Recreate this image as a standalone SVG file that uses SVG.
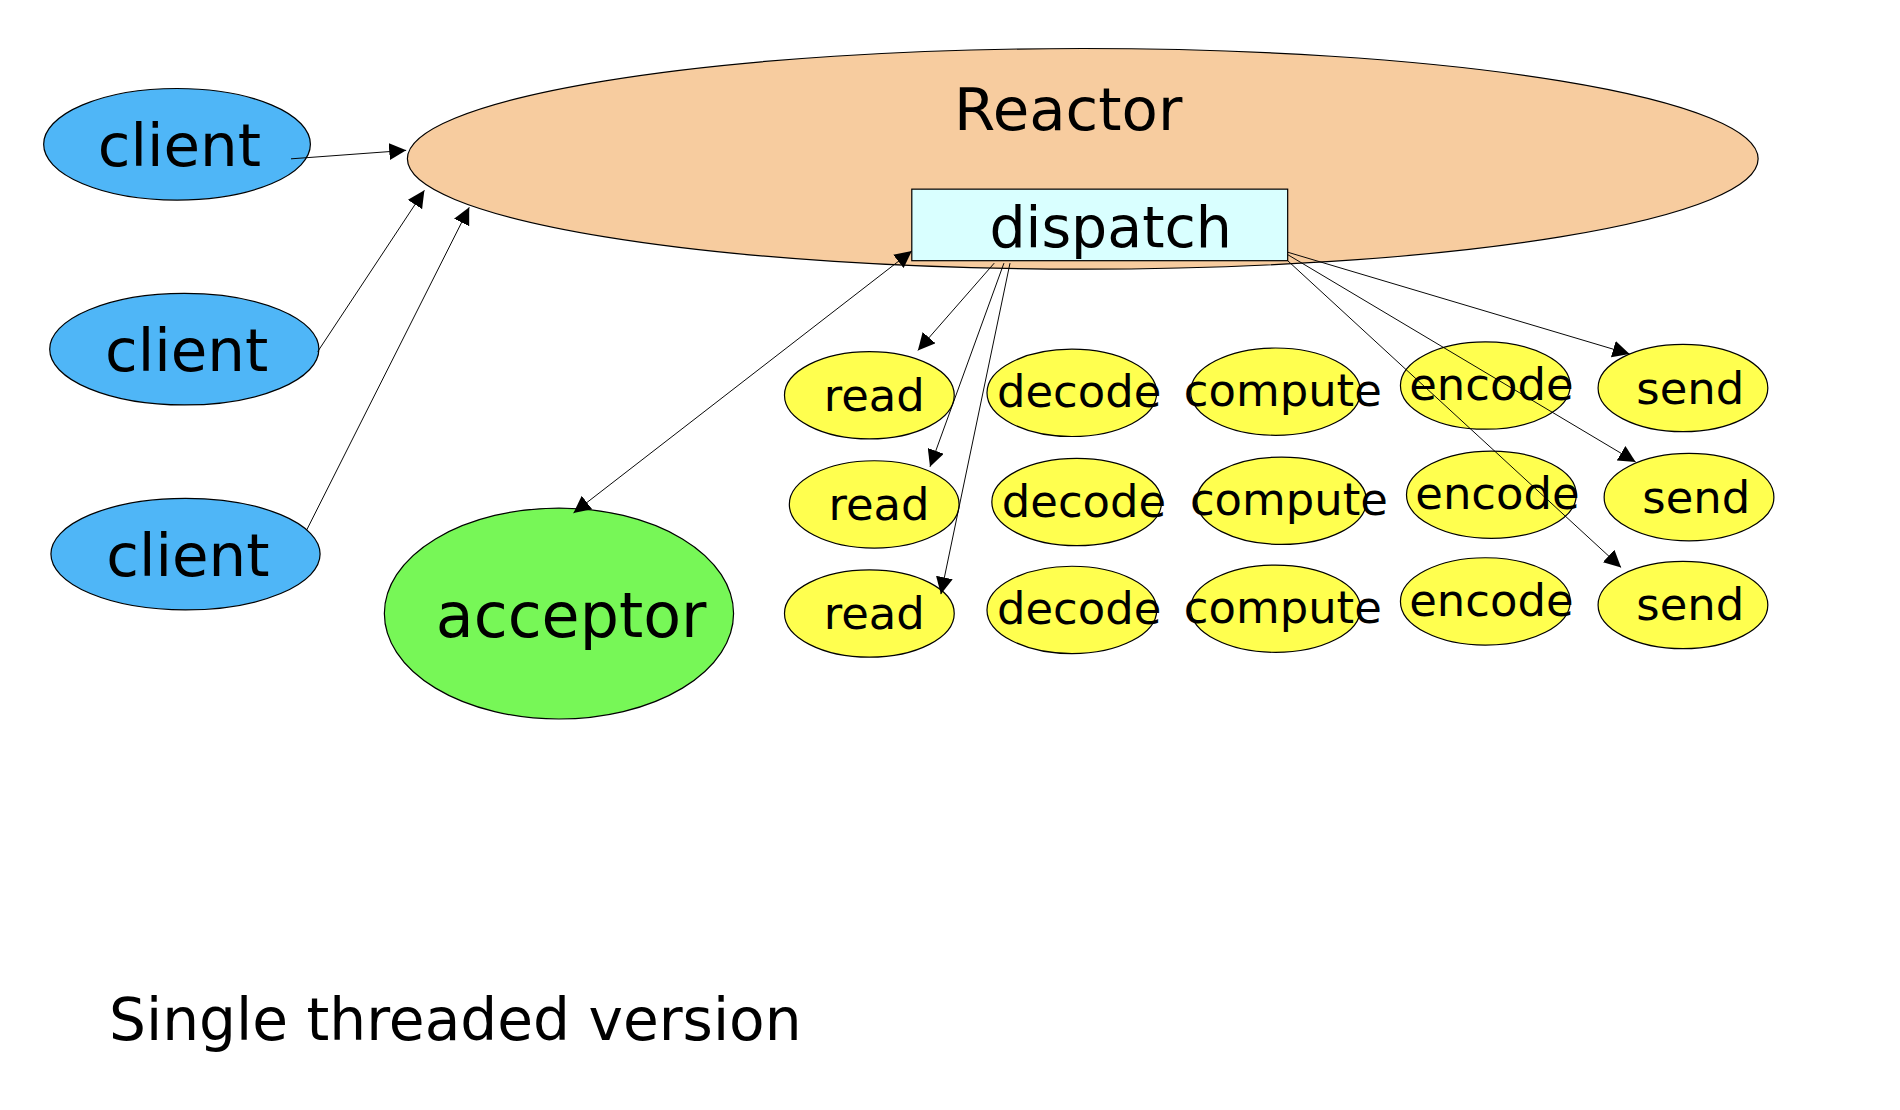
<svg xmlns="http://www.w3.org/2000/svg" width="1900" height="1110" viewBox="0 0 1900 1110">
<style>
text{font-family:"DejaVu Sans","Liberation Sans",sans-serif;fill:#000;text-anchor:middle}
.c{fill:#4FB6F7;stroke:#000;stroke-width:1}
.y{fill:#FFFF4F;stroke:#000;stroke-width:1}
.s{font-size:37px}
.l{stroke:#000;stroke-width:0.8;fill:none;marker-end:url(#a)}
</style>
<defs><marker id="a" viewBox="0 0 10 10" refX="10" refY="5" markerWidth="14" markerHeight="14" markerUnits="userSpaceOnUse" orient="auto-start-reverse"><path d="M0,0L10,5L0,10z" fill="#000"/></marker></defs>
<rect width="1900" height="1110" fill="#fff"/>
<g transform="scale(1.2125)">
<g id="reactor"><ellipse cx="893" cy="131" rx="557" ry="91" fill="#F7CC9F" stroke="#000"/><text x="881" y="107" font-size="49">Reactor</text></g>
<g id="dispatch"><rect x="752" y="156" width="310" height="59" fill="#D9FFFF" stroke="#000"/><text x="916" y="204" font-size="47">dispatch</text></g>
<g id="client1"><ellipse class="c" cx="146" cy="119" rx="110" ry="46"/><text x="148" y="137" font-size="49">client</text></g>
<g id="client2"><ellipse class="c" cx="152" cy="288" rx="111" ry="46"/><text x="154" y="306" font-size="49">client</text></g>
<g id="client3"><ellipse class="c" cx="153" cy="457" rx="111" ry="46"/><text x="155" y="475" font-size="49">client</text></g>
<g id="acceptor"><ellipse cx="461" cy="506" rx="144" ry="87" fill="#77F757" stroke="#000"/><text x="471" y="525" font-size="51">acceptor</text></g>
<g id="read1"><ellipse class="y" cx="717" cy="326" rx="70" ry="36"/><text class="s" x="721" y="339">read</text></g>
<g id="decode1"><ellipse class="y" cx="884" cy="324" rx="70" ry="36"/><text class="s" x="890" y="336">decode</text></g>
<g id="compute1"><ellipse class="y" cx="1052" cy="323" rx="70" ry="36"/><text class="s" x="1058" y="335">compute</text></g>
<g id="encode1"><ellipse class="y" cx="1225" cy="318" rx="70" ry="36"/><text class="s" x="1230" y="330">encode</text></g>
<g id="send1"><ellipse class="y" cx="1388" cy="320" rx="70" ry="36"/><text class="s" x="1394" y="333">send</text></g>
<g id="read2"><ellipse class="y" cx="721" cy="416" rx="70" ry="36"/><text class="s" x="725" y="429">read</text></g>
<g id="decode2"><ellipse class="y" cx="888" cy="414" rx="70" ry="36"/><text class="s" x="894" y="426">decode</text></g>
<g id="compute2"><ellipse class="y" cx="1057" cy="413" rx="70" ry="36"/><text class="s" x="1063" y="425">compute</text></g>
<g id="encode2"><ellipse class="y" cx="1230" cy="408" rx="70" ry="36"/><text class="s" x="1235" y="420">encode</text></g>
<g id="send2"><ellipse class="y" cx="1393" cy="410" rx="70" ry="36"/><text class="s" x="1399" y="423">send</text></g>
<g id="read3"><ellipse class="y" cx="717" cy="506" rx="70" ry="36"/><text class="s" x="721" y="519">read</text></g>
<g id="decode3"><ellipse class="y" cx="884" cy="503" rx="70" ry="36"/><text class="s" x="890" y="515">decode</text></g>
<g id="compute3"><ellipse class="y" cx="1052" cy="502" rx="70" ry="36"/><text class="s" x="1058" y="514">compute</text></g>
<g id="encode3"><ellipse class="y" cx="1225" cy="496" rx="70" ry="36"/><text class="s" x="1230" y="508">encode</text></g>
<g id="send3"><ellipse class="y" cx="1388" cy="499" rx="70" ry="36"/><text class="s" x="1394" y="511">send</text></g>
<g id="connectors">
<line class="l" x1="240" y1="131" x2="335" y2="124"/>
<line class="l" x1="262" y1="290" x2="350" y2="157"/>
<line class="l" x1="253" y1="437" x2="387" y2="171"/>
<line class="l" x1="473" y1="423" x2="752" y2="207" marker-start="url(#a)"/>
<line class="l" x1="820" y1="217" x2="757" y2="289"/>
<line class="l" x1="828" y1="217" x2="767" y2="385"/>
<line class="l" x1="833" y1="217" x2="776" y2="490"/>
<line class="l" x1="1062" y1="208" x2="1344" y2="292"/>
<line class="l" x1="1062" y1="210" x2="1349" y2="381"/>
<line class="l" x1="1062" y1="215" x2="1337" y2="468"/>
</g>
<text x="90" y="858" font-size="48" style="text-anchor:start">Single threaded version</text>
</g>
</svg>
